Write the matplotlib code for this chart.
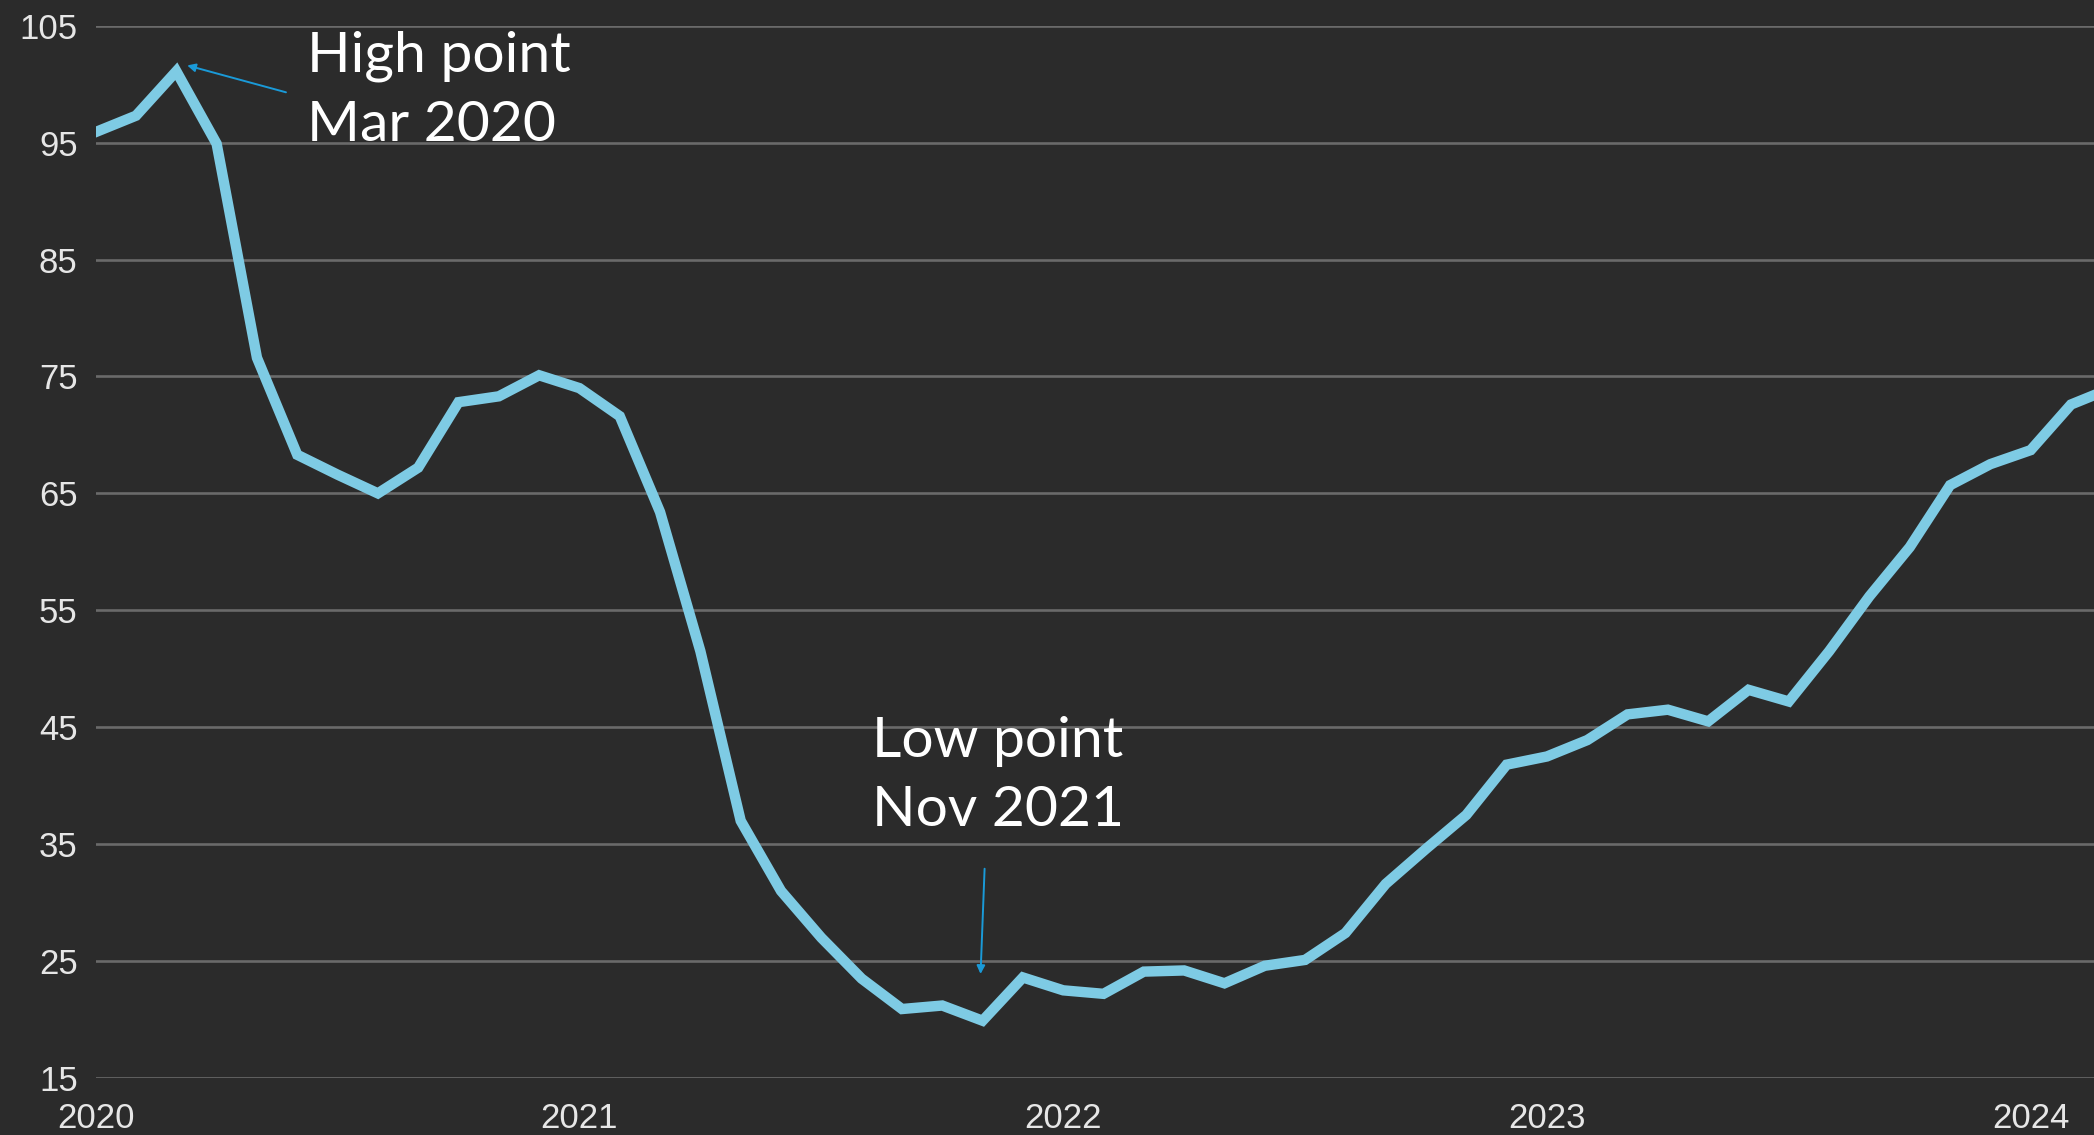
import matplotlib
matplotlib.use("Agg")
import matplotlib.pyplot as plt

# Monthly index values, Jan 2020 through Mar 2024
months = list(range(51))
values = [
    95.9, 97.3, 101.1, 94.9, 76.6, 68.3, 66.6, 65.0, 67.2, 72.8, 73.3, 75.1,   # 2020
    74.0, 71.6, 63.4, 51.5, 37.0, 31.0, 27.0, 23.5, 20.9, 21.2, 19.9, 23.6,   # 2021
    22.5, 22.2, 24.1, 24.2, 23.1, 24.6, 25.1, 27.4, 31.6, 34.6, 37.5, 41.8,   # 2022
    42.5, 43.9, 46.1, 46.5, 45.5, 48.2, 47.2, 51.5, 56.2, 60.4, 65.7, 67.5,   # 2023
    68.7, 72.6, 74.0,                                                          # 2024
]
year_ticks = [0, 12, 24, 36, 48]
year_labels = ["2020", "2021", "2022", "2023", "2024"]
y_ticks = [15, 25, 35, 45, 55, 65, 75, 85, 95, 105]

high_idx, low_idx = 2, 22
high_label = "High point\nMar 2020"
low_label = "Low point\nNov 2021"

BG = "#2b2b2b"
LINE = "#7ecbe4"
GRID = "#6a6a6a"
ARROW = "#1a9ad8"

fig = plt.figure(figsize=(20.94, 11.35), dpi=100, facecolor=BG)
ax = fig.add_axes([0.0457, 0.0502, 0.9543, 0.9272], facecolor=BG)

ax.plot(months, values, color=LINE, lw=7.5, solid_joinstyle="miter", zorder=3)

ax.set_xlim(0, 49.57)
ax.set_ylim(15, 105)
ax.set_yticks(y_ticks)
ax.set_xticks(year_ticks)
ax.set_xticklabels(year_labels)
ax.yaxis.grid(True, color=GRID, lw=1.9)
ax.xaxis.grid(False)
for s in ax.spines.values():
    s.set_visible(False)
ax.tick_params(axis="both", length=0, colors="#e6e6e6", labelsize=25)
ax.tick_params(axis="y", pad=13)
ax.tick_params(axis="x", pad=17)
for lab in ax.get_xticklabels() + ax.get_yticklabels():
    lab.set_family("Liberation Sans")

# Callouts for the peak and the trough
ax.annotate("", xy=(high_idx + 0.27, values[high_idx] + 0.5), xytext=(4.72, 99.3),
            arrowprops=dict(arrowstyle="-|>", color=ARROW, lw=1.4, mutation_scale=12,
                            shrinkA=0, shrinkB=0), zorder=4)
ax.text(5.24, 104.6, high_label, color="white", fontsize=41, family="Lato",
        va="top", ha="left", linespacing=1.45, zorder=5)

ax.annotate("", xy=(low_idx - 0.05, 23.9), xytext=(low_idx + 0.05, 32.9),
            arrowprops=dict(arrowstyle="-|>", color=ARROW, lw=1.4, mutation_scale=12,
                            shrinkA=0, shrinkB=0), zorder=4)
ax.text(19.26, 46.0, low_label, color="white", fontsize=41, family="Lato",
        va="top", ha="left", linespacing=1.45, zorder=5)

fig.savefig("out.png", dpi=100, facecolor=BG)
